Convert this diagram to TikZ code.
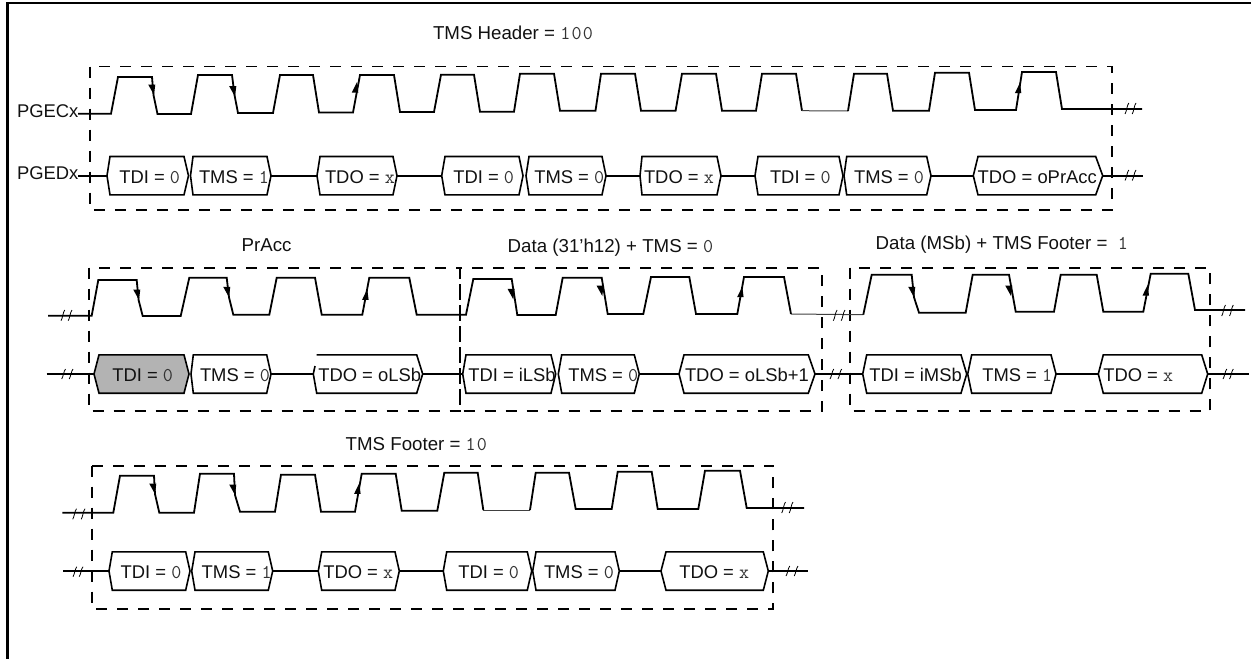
\documentclass[tikz,border=0pt]{standalone}
\usepackage{fontspec}
\setmainfont{Liberation Sans}
\definecolor{ink}{HTML}{111111}
\definecolor{monoc}{HTML}{333333}
\definecolor{busgray}{HTML}{B3B3B3}
\newcommand{\dg}[1]{{\fontsize{19.5}{20}\selectfont\ttfamily\color{monoc}#1}}
\tikzset{
  sigline/.style={line width=1.8pt,line join=miter,draw=black},
  hexline/.style={line width=1.6pt,line join=miter,draw=black},
  thinline/.style={line width=1pt,draw=black!75},
  framebox/.style={line width=1.9pt,draw=black,dash pattern=on 11pt off 10pt},
  border/.style={line width=2.1pt,draw=black},
  brk/.style={line width=0.8pt,draw=black},
  lab/.style={inner sep=0pt,outer sep=0pt,anchor=base west,text=ink,font=\fontsize{18.4}{20}\selectfont},
  ttl/.style={lab,font=\fontsize{18.7}{20}\selectfont},
  tipfill/.style={fill=black,draw=none}
}
\newcommand{\hexa}[9]{% name tipL topL topR tipR yMid fill textX text
  \coordinate (#1l) at (#2,#6);
  \coordinate (#1r) at (#5,#6);
  \draw[hexline,fill=#7] (#1l) -- (#3,#6-19.2) -- (#4,#6-19.2) -- (#1r) -- (#4,#6+19.2) -- (#3,#6+19.2) -- cycle;
  \node[lab] (#1t) at (#8,#6+\basedy) {#9};
}
\newcommand{\basedy}{7.6}
\newcommand{\brkmark}[4]{% x1 x2 yBottom yTop : two strokes
  \draw[brk] (#1,#3) .. controls (#1+1.5,#3-2) and (#1+2,#4+2) .. (#1+3.8,#4);
  \draw[brk] (#2-3.8,#3) .. controls (#2-2.3,#3-2) and (#2-1.8,#4+2) .. (#2,#4);
}
\newcommand{\adown}[2]{\fill[tipfill] (#1,#2) -- (#1-5.8,#2-10.5) -- (#1+1.3,#2-10.5) -- cycle;}
\newcommand{\aup}[2]{\fill[tipfill] (#1,#2) -- (#1-5.2,#2+10.5) -- (#1+1.3,#2+10.5) -- cycle;}
\begin{document}
\begin{tikzpicture}[x=1pt,y=-1pt]
\useasboundingbox (0,0) rectangle (1251,659);
% outer border
\draw[border] (7.5,658.7) -- (7.5,2.7) -- (1251,2.7);

% dashed frames
\draw[framebox] (90,66.5) rectangle (1111.7,209.7);
\draw[framebox] (89,267.7) rectangle (460,411);
\draw[framebox] (460,267.7) rectangle (821.7,411);
\draw[framebox] (850,267.7) rectangle (1210,411);
\draw[framebox] (92.3,465.7) rectangle (773.3,609);

% ---- row 1 clock
\draw[sigline] (78,113.7) -- (111,113.7) -- (118,77) -- (152,77) -- (153.5,95) -- (157.5,114) -- (191,114) -- (198,75) -- (232,75) -- (234.5,95) -- (238,113) -- (273,113) -- (280,75) -- (313,75) -- (319,112.5) -- (353,112.5) -- (360,75) -- (394,75) -- (400,112) -- (434,112) -- (441,74.7) -- (474,74.7) -- (480,111.7) -- (514,111.7) -- (520,73.7) -- (554,73.7) -- (560,110.7) -- (595.5,110.7) -- (601,73.7) -- (635,73.7) -- (641,110.7) -- (675.6,110.7) -- (682,73.7) -- (716,73.7) -- (722,110.7) -- (756,110.7) -- (762,73.7) -- (796,73.7) -- (802,110.7);
\draw[thinline] (802,110.7) -- (848,111);
\draw[sigline] (848,111) -- (854,73.7) -- (887,73.7) -- (893,110.7) -- (929,110.7) -- (935,72.7) -- (969,72.7) -- (975,110) -- (1016,110) -- (1022,72) -- (1056,72) -- (1062,109) -- (1142,109);
\adown{154}{95} \adown{235}{96.7} \aup{357}{82} \aup{1020}{82.7}
\brkmark{1125}{1136}{114}{103}

% ---- row 1 bus
\hexa{a1}{107}{110}{184}{188.5}{175.7}{white}{119.3}{TDI = \dg{0}}
\hexa{a2}{190.5}{193}{267}{271}{175.7}{white}{199}{TMS = \dg{1}}
\hexa{a3}{317}{320}{393}{397}{175.7}{white}{325}{TDO = \dg{x}}
\hexa{a4}{441.7}{445}{519}{523}{175.7}{white}{453.3}{TDI = \dg{0}}
\hexa{a5}{526}{529}{602}{606}{175.7}{white}{534.3}{TMS = \dg{0}}
\hexa{a6}{640}{642}{717}{721}{175.7}{white}{644}{TDO = \dg{x}}
\hexa{a7}{755}{758}{839}{843}{175.7}{white}{770}{TDI = \dg{0}}
\hexa{a8}{844}{846.7}{926.7}{931}{175.7}{white}{854}{TMS = \dg{0}}
\hexa{a9}{973.3}{978}{1095.7}{1102.7}{175.7}{white}{977.7}{TDO = oPrAcc}
\coordinate (a0) at (78,175.7);
\coordinate (a10) at (1143,175.7);
\draw[sigline] (a0) -- (a1l);
\draw[sigline] (a2r) -- (a3l);
\draw[sigline] (a3r) -- (a4l);
\draw[sigline] (a5r) -- (a6l);
\draw[sigline] (a6r) -- (a7l);
\draw[sigline] (a8r) -- (a9l);
\draw[sigline] (a9r) -- (a10);
\brkmark{1125}{1136}{180.5}{170}

\node[lab] (pgec) at (17,117.3) {PGECx};
\node[lab] (pged) at (17,179.3) {PGEDx};

% ---- row 2 clock
\draw[sigline] (48,315.7) -- (91.7,315.7) -- (98.3,280) -- (136.7,280) -- (138.6,300) -- (142.7,316) -- (180.7,316) -- (189.3,277.7) -- (226.7,277.7) -- (229,297.3) -- (233.3,314.7) -- (269.3,314.7) -- (276.7,277.7) -- (315,277.7) -- (321.7,314.7) -- (362.3,314.7) -- (369.3,277.7) -- (409.3,277.7) -- (416.7,314.7) -- (466,314.7) -- (473.3,279) -- (511.7,279) -- (517.3,315) -- (555.7,315) -- (562.7,277.7) -- (601.7,277.7) -- (607.7,314) -- (643.3,314) -- (651,277) -- (689.3,277) -- (696,314) -- (737.3,314) -- (744,277) -- (784,277) -- (791,314);
\draw[thinline] (791,314) -- (863.3,314.7);
\draw[sigline] (863.3,314.7) -- (871.7,274.7) -- (911.7,274.7) -- (914,297.3) -- (919,312.7) -- (965.7,312.7) -- (972.7,274.7) -- (1009,274.7) -- (1015.7,311.7) -- (1054,311.7) -- (1060.7,274.7) -- (1096.7,274.7) -- (1103.3,311.7) -- (1143.3,311.7) -- (1150.7,273.7) -- (1188.3,273.7) -- (1195,310) -- (1245,310);
\adown{139}{300} \adown{229}{297.3} \aup{367.3}{289.3}
\adown{513.3}{299.3} \adown{602.3}{296} \aup{742.3}{286.7}
\adown{914}{297.3} \adown{1011}{296} \aup{1147.7}{285}
\brkmark{61}{72}{320.7}{310}
\brkmark{833.3}{845}{320.7}{310}
\brkmark{1221.7}{1233.3}{316}{305}

% ---- row 2 bus
\hexa{b1}{94}{99}{184}{189}{374}{busgray}{112.3}{TDI = \dg{0}}
\hexa{b2}{191}{193.3}{266.7}{271}{374}{white}{200}{TMS = \dg{0}}
% TDO box with its small gap at the upper left
\coordinate (b3l) at (313.3,374);
\coordinate (b3r) at (422.7,374);
\draw[hexline] (315,366) -- (b3l) -- (316.7,393.2) -- (416.7,393.2) -- (b3r) -- (416.7,354.8) -- (316.7,354.8);
\node[lab] (b3t) at (318.3,381.6) {TDO = oLSb};
\hexa{b4}{462.7}{466}{551}{555.7}{374}{white}{468.3}{TDI = iLSb}
\hexa{b5}{558.3}{561.7}{634.3}{639.3}{374}{white}{568.3}{TMS = \dg{0}}
\hexa{b6}{679}{684}{808.3}{815}{374}{white}{685}{TDO = oLSb+1}
\hexa{b7}{862.7}{866.7}{961}{966.7}{374}{white}{869.3}{TDI = iMSb}
\hexa{b8}{967.7}{971.7}{1051}{1056}{374}{white}{982.3}{TMS = \dg{1}}
\hexa{b9}{1098.3}{1103.3}{1201.7}{1207.7}{374}{white}{1103.3}{TDO = \dg{x}}
\coordinate (b0) at (46.7,374);
\coordinate (b10) at (1249.3,374);
\draw[sigline] (b0) -- (b1l);
\draw[sigline] (b2r) -- (b3l);
\draw[sigline] (b3r) -- (b4l);
\draw[sigline] (b5r) -- (b6l);
\draw[sigline] (b6r) -- (b7l);
\draw[sigline] (b8r) -- (b9l);
\draw[sigline] (b9r) -- (b10);
\brkmark{61.7}{73}{379}{369}
\brkmark{830}{841.7}{379}{369}
\brkmark{1223}{1233.3}{379}{369}

% ---- row 3 clock
\draw[sigline] (62.3,512.7) -- (113.3,512.7) -- (120,475.7) -- (154,475.7) -- (155,494) -- (159.3,512.7) -- (194,512.7) -- (200,473.7) -- (234,473.7) -- (235,495) -- (240,511.7) -- (275,511.7) -- (281,474.7) -- (315,474.7) -- (321,511.7) -- (355,511.7) -- (361.7,473.7) -- (395.7,473.7) -- (401.7,510.7) -- (437.3,510.7) -- (444.3,472.7) -- (477.7,472.7) -- (483.3,510);
\draw[thinline] (483.3,510) -- (530,510);
\draw[sigline] (530,510) -- (535.7,472.7) -- (569,472.7) -- (575.7,509) -- (611.7,509) -- (617.7,471.7) -- (651.7,471.7) -- (657.7,509) -- (698.3,509) -- (705,470.7) -- (740,470.7) -- (746.7,508) -- (804,508);
\adown{155}{494} \adown{235}{495} \aup{359.3}{483.3}
\brkmark{72.7}{85}{519.3}{508.7}
\brkmark{781.7}{793}{513}{502}

% ---- row 3 bus
\hexa{c1}{109}{112.3}{185.7}{190}{571}{white}{120.7}{TDI = \dg{0}}
\hexa{c2}{191.7}{195}{268.3}{272.7}{571}{white}{201.7}{TMS = \dg{1}}
\hexa{c3}{318.3}{321.7}{395}{399.3}{571}{white}{323.3}{TDO = \dg{x}}
\hexa{c4}{443.3}{446.7}{527.3}{531.7}{571}{white}{458.3}{TDI = \dg{0}}
\hexa{c5}{532.7}{536}{615}{619.3}{571}{white}{544}{TMS = \dg{0}}
\hexa{c6}{661}{666}{763.3}{768.3}{571}{white}{679.3}{TDO = \dg{x}}
\coordinate (c0) at (63.3,571);
\coordinate (c7) at (808.3,571);
\draw[sigline] (c0) -- (c1l);
\draw[sigline] (c2r) -- (c3l);
\draw[sigline] (c3r) -- (c4l);
\draw[sigline] (c5r) -- (c6l);
\draw[sigline] (c6r) -- (c7);
\brkmark{73}{83}{576.7}{566.7}
\brkmark{786}{798}{576}{566}

% titles
\node[ttl] (t1) at (433,39) {TMS Header = \dg{1\kern1.2pt 0\kern1.2pt 0}};
\node[ttl] (t2) at (241.7,251) {PrAcc};
\node[ttl] (t3) at (507.7,252.3) {Data (31’h12) + TMS = \dg{0}};
\node[ttl] (t4) at (875.7,249) {Data (MSb) + TMS Footer =\ \ \dg{1}};
\node[ttl] (t5) at (345.7,450) {TMS Footer = \dg{1\kern1.2pt 0}};
\end{tikzpicture}
\end{document}
